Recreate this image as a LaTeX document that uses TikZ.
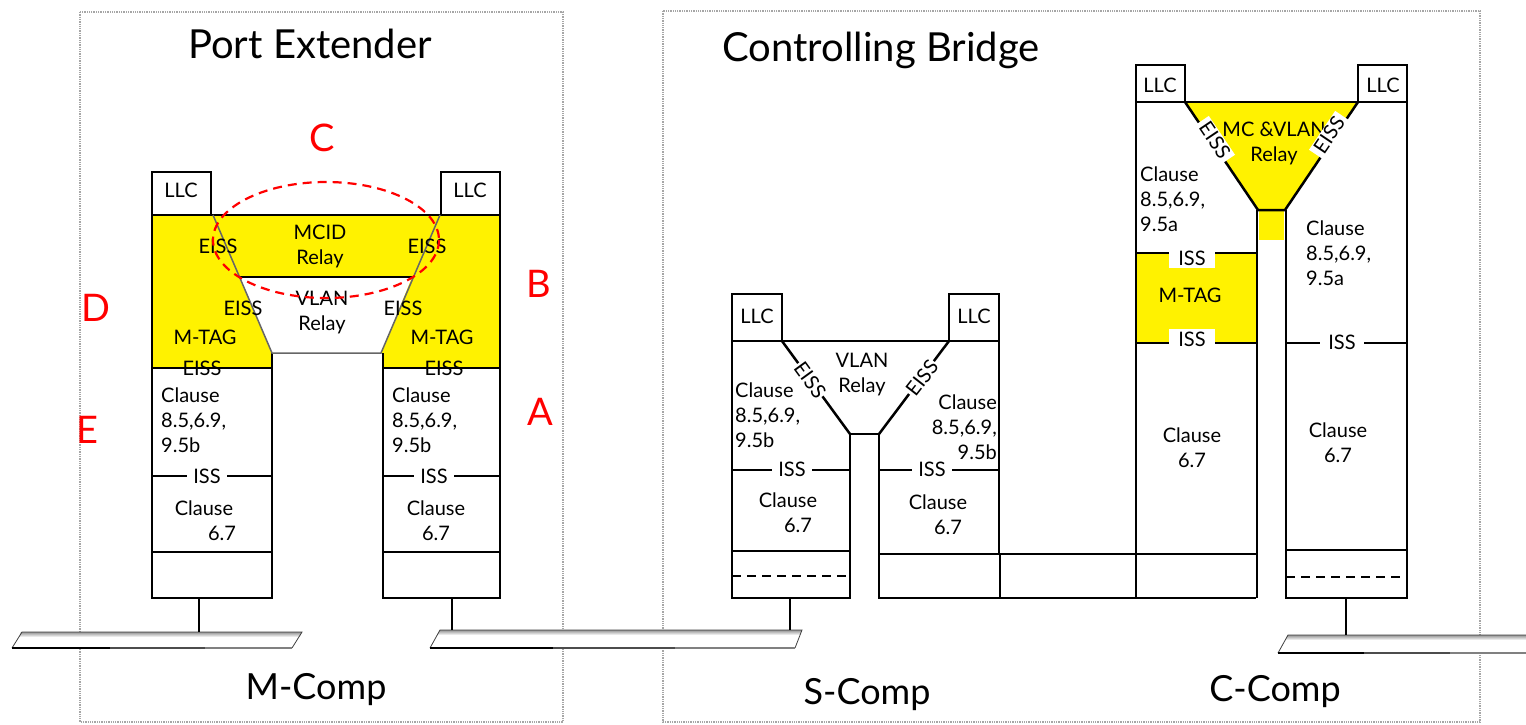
\documentclass[tikz,border=0pt]{standalone}
\usepackage{fontspec}
\setmainfont{Lato}
\usetikzlibrary{shapes.geometric}
\tikzset{
  body/.style={font=\fontsize{20}{25}\selectfont, inner sep=1pt},
  title/.style={font=\fontsize{40}{48}\selectfont},
  comp/.style={font=\fontsize{36}{44}\selectfont},
  letter/.style={font=\fontsize{38}{44}\selectfont, text=red},
  wbg/.style={body, fill=white},
  thk/.style={line width=2.5pt},
  thn/.style={line width=1.6pt},
  frame/.style={gray!70, densely dotted, line width=1.3pt},
  lanbar/.style={top color=gray!85, bottom color=white},
}
\begin{document}
\begin{tikzpicture}[x=1pt,y=-1pt]
\useasboundingbox (0,0) rectangle (1526,724);
% frames
\draw[frame] (80,12) rectangle (563,722);
\draw[frame] (663,11) rectangle (1480,722);
\node[title] (pe) at (310,44) {Port Extender};
\node[title] (cb) at (881,50) {Controlling Bridge};
\node[comp] (mcomp) at (316,690) {M-Comp};
\node[comp] (scomp) at (867,695) {S-Comp};
\node[comp] (ccomp) at (1275,692) {C-Comp};

% ===== Port Extender =====
\fill[yellow] (152,215) rectangle (500,368);
\fill[white] (239,277) -- (412,277) -- (381,353) -- (383,353) -- (383,370) -- (272,370) -- (272,353) -- cycle;
\draw[thk] (152,172) rectangle (211,215);
\draw[thk] (441,172) rectangle (500,215);
\draw[thk] (152,215) -- (500,215);
\draw[thk] (152,215) -- (152,598) -- (272,598) -- (272,353);
\draw[thk] (500,215) -- (500,598) -- (383,598) -- (383,353);
\draw[thk] (152,368) -- (272,368);
\draw[thk] (383,368) -- (500,368);
\draw[thn] (152,476) -- (272,476);
\draw[thn] (383,476) -- (500,476);
\draw[thk] (152,552) -- (272,552);
\draw[thk] (383,552) -- (500,552);
\draw[thk] (239,277) -- (412,277);
\draw[gray!80!black, line width=1.5pt] (213,215) -- (272,353) -- (381,353) -- (440,215);
\node[body] (pllc1) at (181,190) {LLC};
\node[body] (pllc2) at (470,190) {LLC};
\node[body] (pe1) at (218,246) {EISS};
\node[body] (pe2) at (427,246) {EISS};
\node[body] (pe3) at (243,308) {EISS};
\node[body] (pe4) at (403,308) {EISS};
\node[body] (pe5) at (202,368) {EISS};
\node[body] (pe6) at (444,368) {EISS};
\node[body, align=center] (mcid) at (320,246) {MCID\\Relay};
\node[body, align=center] (pvlan) at (322,313) {VLAN\\Relay};
\node[body] (pmt1) at (205,337) {M-TAG};
\node[body] (pmt2) at (442,337) {M-TAG};
\node[body, align=left, anchor=west] (pcl1) at (160,420) {Clause\\8.5,6.9,\\9.5b};
\node[body, align=left, anchor=west] (pcl2) at (391,420) {Clause\\8.5,6.9,\\9.5b};
\node[wbg, inner xsep=6pt] (piss1) at (207,476) {ISS};
\node[wbg, inner xsep=6pt] (piss2) at (434,476) {ISS};
\node[body, align=center] (pc1) at (204,521) {Clause\\\hspace*{1.8em}6.7};
\node[body, align=center] (pc2) at (436,521) {Clause\\6.7};
\draw[red, dashed, line width=2.2pt, dash pattern=on 9pt off 6pt] (326,240) ellipse [x radius=113, y radius=58];
\node[letter] (lc) at (322,138) {C};
\node[letter] (lb) at (539,284) {B};
\node[letter] (ld) at (96,308) {D};
\node[letter] (la) at (540,412) {A};
\node[letter] (le) at (87,430) {E};

% ===== S-Comp =====
\draw[thk] (732,294) rectangle (782,341);
\draw[thk] (949,294) rectangle (999,341);
\draw[thk] (732,341) -- (999,341);
\draw[thk] (732,341) -- (732,598) -- (850,598) -- (850,434) -- (879,434) -- (879,598) -- (1256,598);
\draw[thk] (999,341) -- (999,554);
\draw[thk] (782,341) -- (850,434);
\draw[thk] (949,341) -- (879,434);
\draw[thn] (732,470) -- (850,470);
\draw[thn] (879,470) -- (999,470);
\draw[thk] (732,551) -- (850,551);
\draw[thn, dashed, dash pattern=on 9pt off 6pt] (732,576) -- (850,576);
\draw[thk] (879,554) -- (1256,554);
\draw[thn] (1000,554) -- (1000,598);
\node[body] (sllc1) at (757,316) {LLC};
\node[body] (sllc2) at (974,316) {LLC};
\node[body, align=center] (svlan) at (862,375) {VLAN\\Relay};
\node[wbg, rotate=-54] (se1) at (810,380) {EISS};
\node[wbg, rotate=52] (se2) at (922,378) {EISS};
\node[body, align=left, anchor=west] (scl1) at (734,415) {Clause\\8.5,6.9,\\9.5b};
\node[body, align=right, anchor=east] (scl2) at (998,427) {Clause\\8.5,6.9,\\9.5b};
\node[wbg, inner xsep=6pt] (siss1) at (792,469) {ISS};
\node[wbg, inner xsep=6pt] (siss2) at (932,469) {ISS};
\node[body, align=center] (sc1) at (788,513) {Clause\\\hspace*{1em}6.7};
\node[body, align=center] (sc2) at (938,515) {Clause\\\hspace*{1em}6.7};

% ===== C-Comp =====
\fill[yellow] (1185,102) -- (1358,102) -- (1285,210) -- (1258,210) -- cycle;
\fill[yellow] (1259,210) rectangle (1284,240);
\fill[yellow] (1136,253) rectangle (1256,343);
\draw[thk] (1136,65) rectangle (1185,102);
\draw[thk] (1358,65) rectangle (1407,102);
\draw[thk] (1136,102) -- (1407,102);
\draw[thk] (1185,102) -- (1258,210) -- (1285,210) -- (1358,102);
\draw[thk] (1136,102) -- (1136,598);
\draw[thk] (1407,102) -- (1407,598) -- (1286,598) -- (1286,210);
\draw[thk] (1257,210) -- (1257,598);
\draw[thk] (1136,253) -- (1256,253);
\draw[thk] (1136,343) -- (1256,343);
\draw[thn] (1286,343) -- (1407,343);
\draw[thk] (1286,550) -- (1407,550);
\draw[thn, dashed, dash pattern=on 9pt off 6pt] (1286,577) -- (1407,577);
\node[body] (cllc1) at (1160,85) {LLC};
\node[body] (cllc2) at (1383,85) {LLC};
\node[body, align=center] (crelay) at (1274,143) {MC \&VLAN\\Relay};
\node[wbg, rotate=-56, inner xsep=4pt] (ce1) at (1215,140) {EISS};
\node[wbg, rotate=56, inner xsep=4pt] (ce2) at (1329,135) {EISS};
\node[body, align=left, anchor=west] (ccl1) at (1139,199) {Clause\\8.5,6.9,\\9.5a};
\node[body, align=left, anchor=west] (ccl2) at (1305,253) {Clause\\8.5,6.9,\\9.5a};
\node[wbg, inner xsep=9pt, inner ysep=3pt] (ciss1) at (1192,258) {ISS};
\node[wbg, inner xsep=9pt, inner ysep=3pt] (ciss2) at (1192,339) {ISS};
\node[wbg, inner xsep=8pt] (ciss3) at (1342,342) {ISS};
\node[body] (cmtag) at (1190,295) {M-TAG};
\node[body, align=center] (cc1) at (1192,448) {Clause\\6.7};
\node[body, align=center] (cc2) at (1338,443) {Clause\\6.7};

% ===== LAN bars =====
\fill[white] (12,648) -- (22,632) -- (302,632) -- (292,648) -- cycle;
\shade[lanbar] (21,632) -- (302,632) -- (300,637) -- (19,637) -- cycle;
\draw[gray!50!black, line width=0.8pt] (12,648) -- (22,632) -- (302,632) -- (292,648);
\draw[line width=2pt] (12,648) -- (110,648);
\draw[gray!60!black, line width=2pt] (110,648) -- (205,648);
\draw[gray, line width=2pt] (205,648) -- (292,648);
\fill[white] (430,648) -- (440,630) -- (802,630) -- (795,648) -- cycle;
\shade[lanbar] (440,630) -- (802,630) -- (800,635) -- (437,635) -- cycle;
\draw[gray!50!black, line width=0.8pt] (430,648) -- (440,630) -- (802,630) -- (795,648);
\draw[line width=2pt] (430,648) -- (553,648);
\draw[gray!60!black, line width=2pt] (553,648) -- (675,648);
\draw[gray, line width=2pt] (675,648) -- (795,648);
\fill[white] (1278,653) -- (1288,635) -- (1526,635) -- (1526,653) -- cycle;
\shade[lanbar] (1288,635) -- (1526,635) -- (1526,640) -- (1285,640) -- cycle;
\draw[gray!50!black, line width=0.8pt] (1278,653) -- (1288,635) -- (1526,635);
\draw[line width=2pt] (1278,653) -- (1364,653);
\draw[gray!60!black, line width=2pt] (1364,653) -- (1450,653);
\draw[gray, line width=2pt] (1450,653) -- (1526,653);
% stems
\coordinate (m1) at (199,598); \coordinate (l1) at (199,632);
\coordinate (m2) at (452,598); \coordinate (l2) at (452,630);
\coordinate (s1) at (790,598); \coordinate (l3) at (790,630);
\coordinate (c1) at (1346,598); \coordinate (l4) at (1346,635);
\draw[thn] (m1) -- (l1);
\draw[thn] (m2) -- (l2);
\draw[thn] (s1) -- (l3);
\draw[thn] (c1) -- (l4);
\end{tikzpicture}
\end{document}
